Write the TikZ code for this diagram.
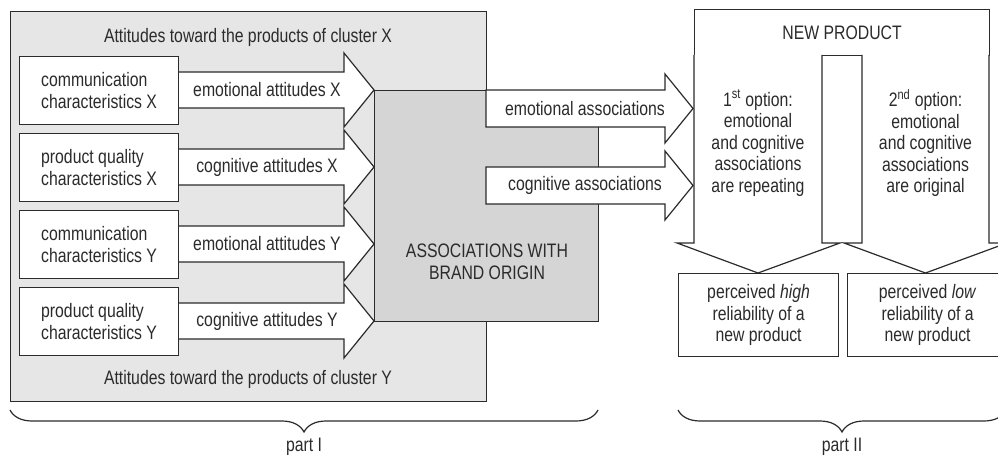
\documentclass[tikz,border=0pt]{standalone}
\usepackage{fontspec}
\setmainfont{Liberation Sans}[FakeStretch=0.81]
\usetikzlibrary{decorations.pathreplacing}
\definecolor{ink}{HTML}{2B2B2B}
\definecolor{outerg}{HTML}{E6E6E6}
\definecolor{assocg}{HTML}{D5D5D5}
\begin{document}
\begin{tikzpicture}[x=1pt,y=-1pt,line width=1.2pt,
  every node/.style={font=\fontsize{19.5}{21.5}\selectfont, text=ink, inner sep=0pt},
  panel/.style={draw=ink, anchor=north west},
  srcbox/.style={panel, fill=white, minimum width=159pt, minimum height=68pt},
  resbox/.style={panel, fill=white, minimum width=160pt, minimum height=83pt},
  blk/.style={draw=ink, fill=white, line join=miter},
  txt/.style={align=center},
  ltxt/.style={align=left},
  brc/.style={draw=ink, decorate, decoration={brace, mirror, amplitude=22pt}}]
\clip (0,0) rectangle (998,457);
% outer cluster panel
\node[panel, fill=outerg, minimum width=476pt, minimum height=390pt] (outer) at (10,11) {};
\node (tx) at (248,37) {Attitudes toward the products of cluster X};
\node (ty) at (248,379) {Attitudes toward the products of cluster Y};
% block arrows from sources
\foreach \c in {90,167,244,321}{
  \draw[blk] (178,\c-18) -- (344,\c-18) -- (344,\c-37) -- (374,\c) -- (344,\c+37) -- (344,\c+18) -- (178,\c+18);
}
% source boxes
\node[srcbox] (s1) at (19,56) {};
\node[srcbox] (s2) at (19,133) {};
\node[srcbox] (s3) at (19,210) {};
\node[srcbox] (s4) at (19,287) {};
\node[ltxt] (t1) at (s1.center) {communication\\characteristics X};
\node[ltxt] (t2) at (s2.center) {product quality\\characteristics X};
\node[ltxt] (t3) at (s3.center) {communication\\characteristics Y};
\node[ltxt] (t4) at (s4.center) {product quality\\characteristics Y};
\node (a1) at (267,90) {emotional attitudes X};
\node (a2) at (267,167) {cognitive attitudes X};
\node (a3) at (267,244) {emotional attitudes Y};
\node (a4) at (267,321) {cognitive attitudes Y};
% associations box
\node[panel, fill=assocg, minimum width=224pt, minimum height=231pt] (assoc) at (374,90) {};
\node[txt] (assoct) at (487,262) {ASSOCIATIONS WITH\\BRAND ORIGIN};
% association arrows
\draw[blk] (486,90) -- (665,90) -- (665,74) -- (693,108.5) -- (665,143) -- (665,127) -- (486,127) -- cycle;
\draw[blk] (486,167) -- (665,167) -- (665,151) -- (693,185.5) -- (665,220) -- (665,204) -- (486,204) -- cycle;
\node (e1) at (585,108.5) {emotional associations};
\node (e2) at (585,185.5) {cognitive associations};
% new product
\node[panel, fill=white, minimum width=295pt, minimum height=46pt] (np) at (694,9) {};
\node (npt) at (np.center) {NEW PRODUCT};
\draw[blk] (694,55) -- (694,243) -- (677,243) -- (758,273) -- (840,243) -- (822,243) -- (822,55);
\draw[blk] (862,55) -- (862,243) -- (844,243) -- (925.5,273) -- (1007,243) -- (989,243) -- (989,55);
\node[txt] (o1) at (758,143) {1\textsuperscript{st} option:\\emotional\\and cognitive\\associations\\are repeating};
\node[txt] (o2) at (925.5,143) {2\textsuperscript{nd} option:\\emotional\\and cognitive\\associations\\are original};
% results
\node[resbox] (r1) at (678,273) {};
\node[resbox] (r2) at (847,273) {};
\node[txt] (rt1) at (r1.center) {perceived \textit{high}\\reliability of a\\new product};
\node[txt] (rt2) at (r2.center) {perceived \textit{low}\\reliability of a\\new product};
% braces
\coordinate (b1l) at (10,410);
\coordinate (b1r) at (598,410);
\coordinate (b2l) at (678,410);
\coordinate (b2r) at (1006,410);
\draw[brc] (b1l) -- (b1r);
\draw[brc] (b2l) -- (b2r);
\node (p1) at (304,447) {part I};
\node (p2) at (842,447) {part II};
\end{tikzpicture}
\end{document}
